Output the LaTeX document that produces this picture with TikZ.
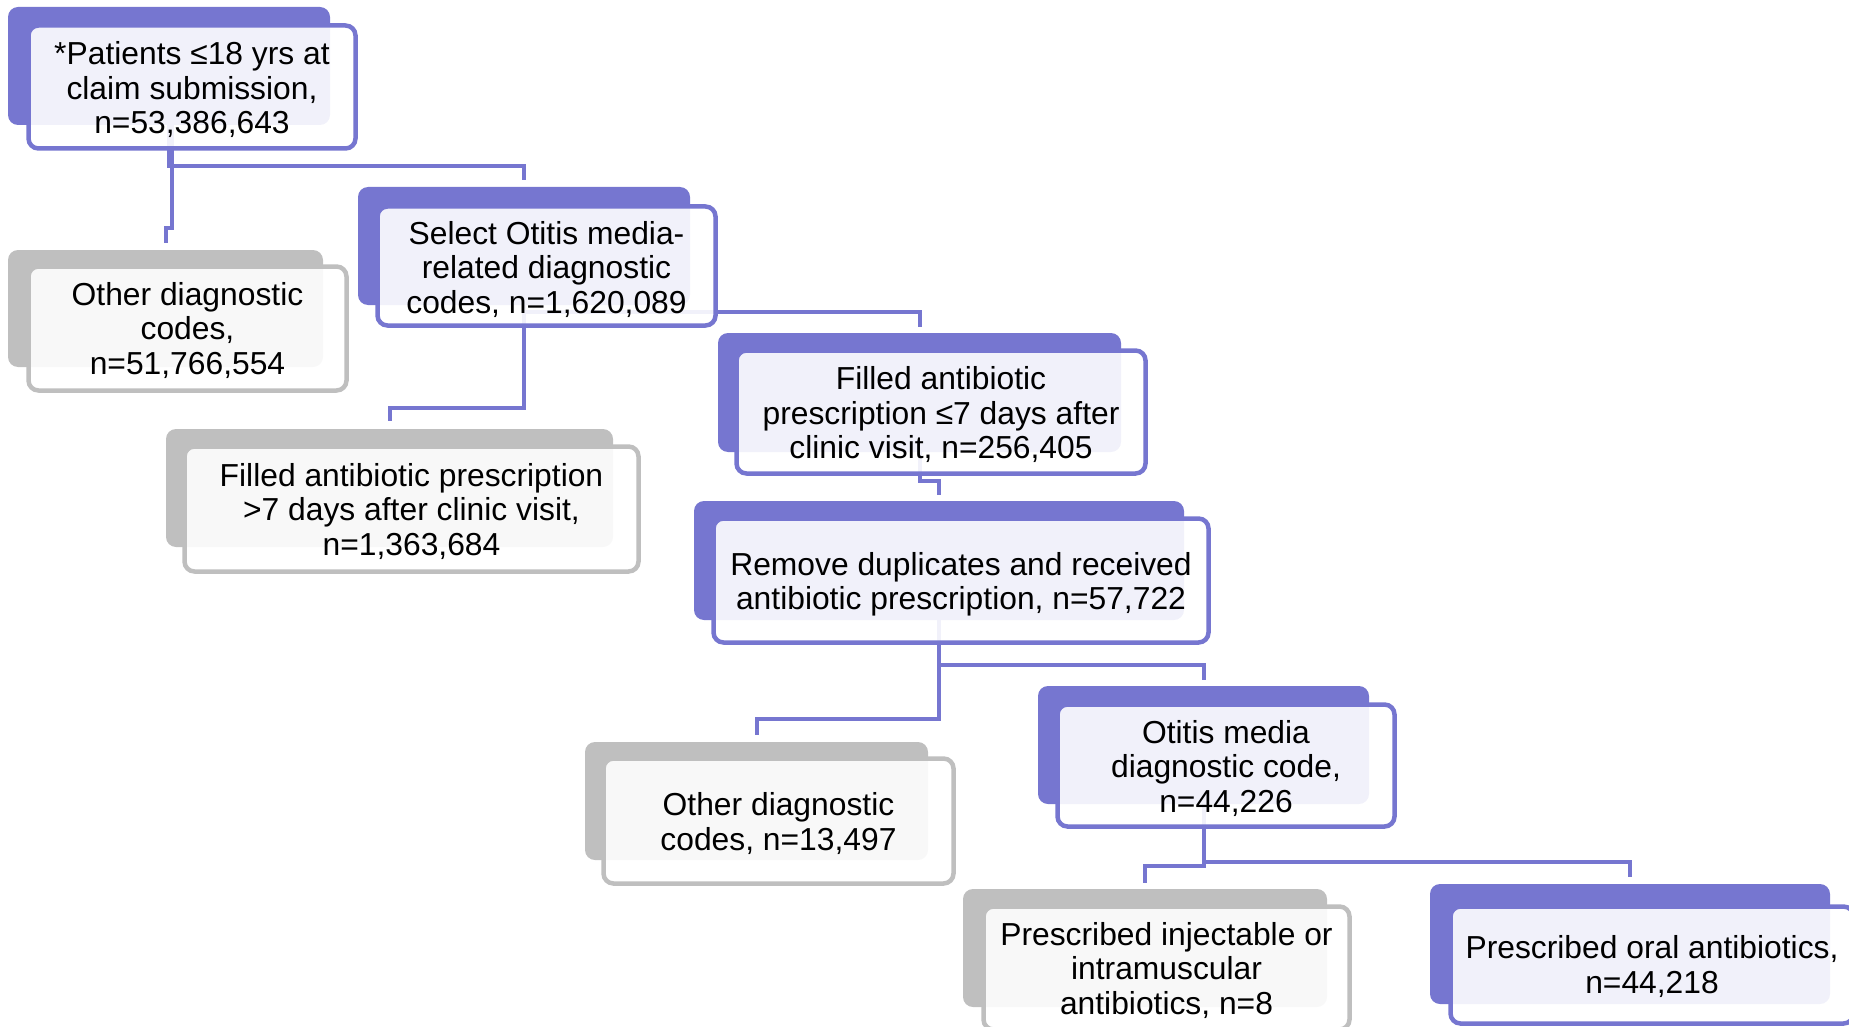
\documentclass[tikz,border=0pt]{standalone}
\usepackage{fontspec}
\setmainfont{Liberation Sans}
\usetikzlibrary{calc}
\definecolor{pur}{RGB}{118,118,208}
\definecolor{gry}{RGB}{191,191,191}
\pgfdeclarelayer{bgl}
\pgfsetlayers{bgl,main}
\tikzset{
  back/.style={rounded corners=10pt, inner sep=0pt, outer sep=0pt},
  pback/.style={back, fill=pur},
  gback/.style={back, fill=gry},
  box/.style={rounded corners=10pt, line width=4.5pt, fill=white, fill opacity=0.9,
    inner sep=0pt, outer sep=0pt},
  pbox/.style={box, draw=pur},
  gbox/.style={box, draw=gry},
  txt/.style={inner sep=0pt, align=center, font=\fontsize{31.8}{34.5}\selectfont},
  conn/.style={draw=pur, line width=4pt},
}
\begin{document}
\begin{tikzpicture}[x=1pt,y=-1pt]
\useasboundingbox (0,0) rectangle (1849,1027);
\clip (0,0) rectangle (1849,1027);

% A
\node[pback, minimum width=322pt, minimum height=118pt] (Ab) at (169,66) {};
\node[pbox, minimum width=327pt, minimum height=123pt] (A) at (192,87) {};
\node[txt] (At) at ($(A.center)+(0,3)$) {*Patients ≤18 yrs at\\claim submission,\\n=53,386,643};
% B
\node[gback, minimum width=315pt, minimum height=117pt] (Bb) at (165.5,308.5) {};
\node[gbox, minimum width=318pt, minimum height=124pt] (B) at (187.5,328.5) {};
\node[txt] (Bt) at ($(B.center)+(0,2)$) {Other diagnostic\\codes,\\n=51,766,554};
% C
\node[pback, minimum width=332pt, minimum height=118pt] (Cb) at (524,246) {};
\node[pbox, minimum width=338pt, minimum height=119pt] (C) at (546.5,266) {};
\node[txt] (Ct) at ($(C.center)+(0,3.5)$) {Select Otitis media-\\related diagnostic\\codes, n=1,620,089};
% D
\node[gback, minimum width=447pt, minimum height=118pt] (Db) at (389.5,488) {};
\node[gbox, minimum width=454pt, minimum height=125pt] (D) at (411.5,509) {};
\node[txt] (Dt) at ($(D.center)+(0,2.5)$) {Filled antibiotic prescription\\>7 days after clinic visit,\\n=1,363,684};
% E
\node[pback, minimum width=403pt, minimum height=119pt] (Eb) at (919.5,392.5) {};
\node[pbox, minimum width=409pt, minimum height=123pt] (E) at (941,412) {};
\node[txt] (Et) at ($(E.center)+(0,3)$) {Filled antibiotic\\prescription ≤7 days after\\clinic visit, n=256,405};
% F
\node[pback, minimum width=490pt, minimum height=119pt] (Fb) at (939,560.5) {};
\node[pbox, minimum width=495pt, minimum height=124pt] (F) at (961,580.5) {};
\node[txt] (Ft) at ($(F.center)+(0,4)$) {Remove duplicates and received\\antibiotic prescription, n=57,722};
% G
\node[gback, minimum width=343pt, minimum height=118pt] (Gb) at (756.5,801) {};
\node[gbox, minimum width=350pt, minimum height=125pt] (G) at (778.5,821) {};
\node[txt] (Gt) at ($(G.center)+(0,2.5)$) {Other diagnostic\\codes, n=13,497};
% H
\node[pback, minimum width=331pt, minimum height=118pt] (Hb) at (1203.5,745) {};
\node[pbox, minimum width=337pt, minimum height=122pt] (H) at (1226,765.5) {};
\node[txt] (Ht) at ($(H.center)+(0,3)$) {Otitis media\\diagnostic code,\\n=44,226};
% I
\node[gback, minimum width=364pt, minimum height=118pt] (Ib) at (1145,948) {};
\node[gbox, minimum width=366pt, minimum height=123pt] (I) at (1166.5,968) {};
\node[txt] (It) at ($(I.center)+(0,2.5)$) {Prescribed injectable or\\intramuscular\\antibiotics, n=8};
% J
\node[pback, minimum width=400pt, minimum height=120pt] (Jb) at (1630,944) {};
\node[pbox, minimum width=403pt, minimum height=117pt] (J) at (1652,965) {};
\node[txt] (Jt) at ($(J.center)+(0,1.5)$) {Prescribed oral antibiotics,\\n=44,218};

\begin{pgfonlayer}{bgl}
\draw[conn] (Ab.south) |- ($(Cb.north)+(0,-21)$) -- ++(0,14);
\draw[conn] ($(Ab.south)+(3,0)$) |- ($(Bb.north)+(0,-22)$) -- ++(0,15);
\draw[conn] (Cb.south) |- ($(Eb.north)+(0,-21)$) -- ++(0,15);
\draw[conn] (Cb.south) |- ($(Db.north)+(0,-21)$) -- ++(0,13);
\draw[conn] (Eb.south) |- ($(Fb.north)+(0,-20)$) -- ++(0,14);
\draw[conn] (Fb.south) |- ($(Hb.north)+(0,-21)$) -- ++(0,15);
\draw[conn] (Fb.south) |- ($(Gb.north)+(0,-23)$) -- ++(0,16);
\draw[conn] (Hb.south) |- ($(Jb.north)+(0,-22)$) -- ++(0,15);
\draw[conn] (Hb.south) |- ($(Ib.north)+(0,-23)$) -- ++(0,17);
\end{pgfonlayer}
\end{tikzpicture}
\end{document}
